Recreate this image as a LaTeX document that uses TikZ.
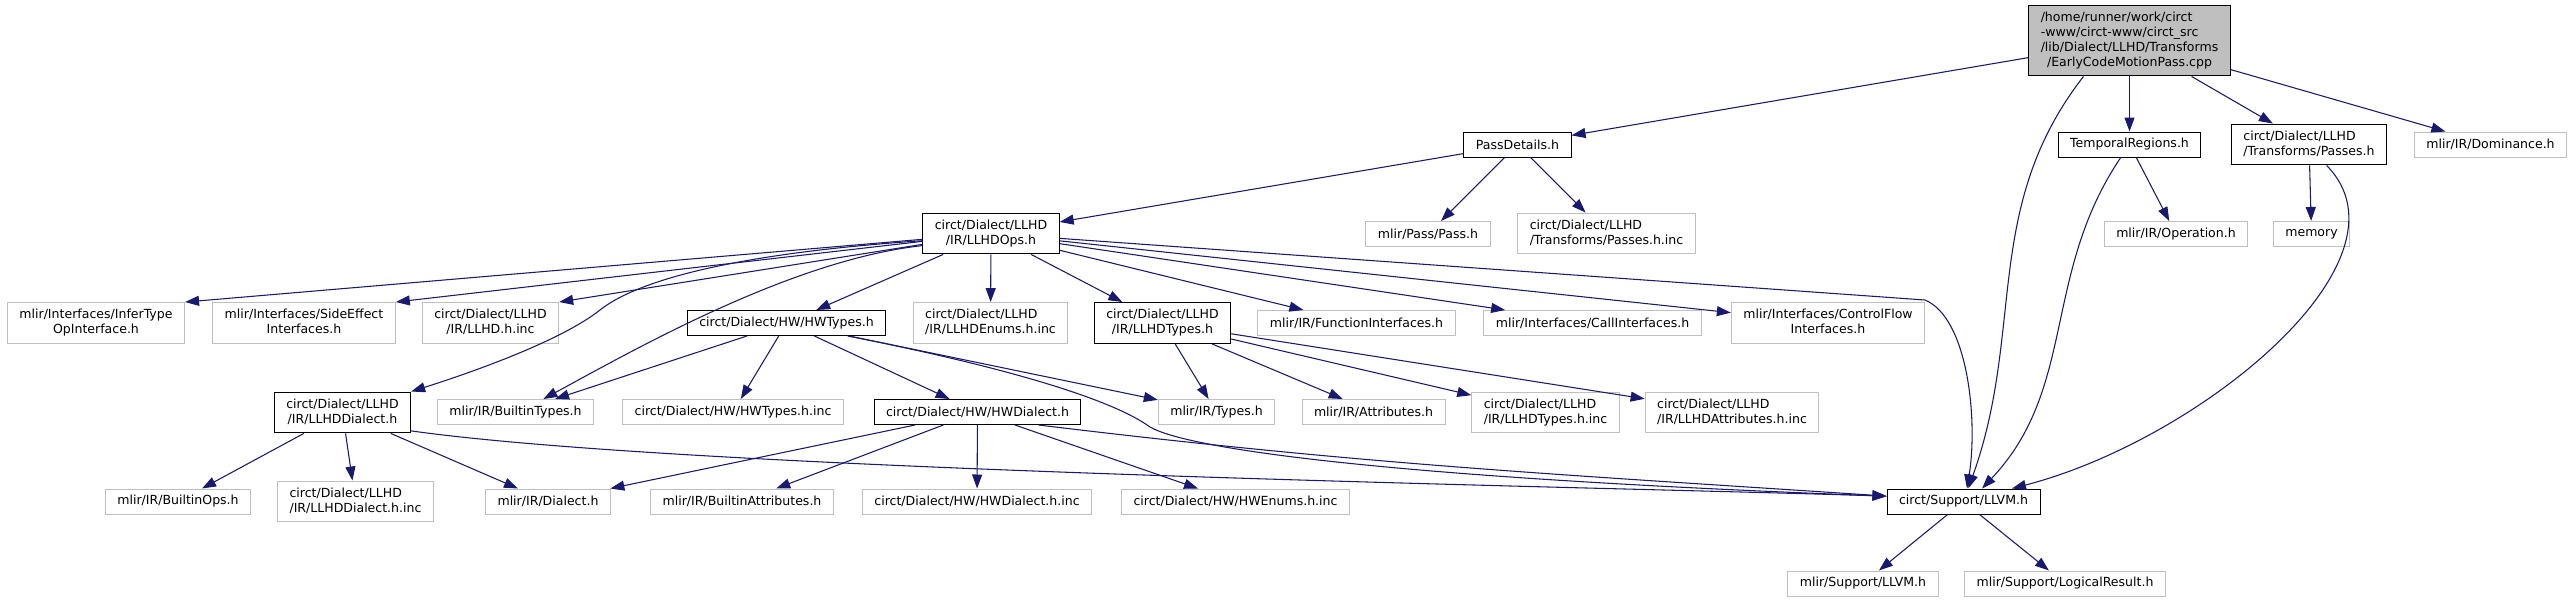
\documentclass[tikz,border=0pt]{standalone}
\usepackage{fontspec}
\setmainfont{DejaVu Sans}
\usetikzlibrary{arrows.meta}
\definecolor{grey75}{HTML}{BFBFBF}
\definecolor{edgeblue}{HTML}{191970}
\newcommand{\flab}[2]{\begin{tabular}{@{}l@{}}#1\\\multicolumn{1}{@{}c@{}}{#2}\end{tabular}}
\tikzset{
  incfile/.style={draw,line width=0.75pt,fill=white,inner xsep=9pt,inner ysep=4.1pt,minimum height=18.75pt,font=\fontsize{9.4}{11.25}\selectfont},
  extfile/.style={incfile,draw=grey75},
  rootfile/.style={incfile,fill=grey75},
  dep/.style={draw=edgeblue,line width=0.8pt,-{Triangle[length=10.5pt,width=7.5pt]}}
}

\begin{document}
\begin{tikzpicture}[x=0.75pt,y=-0.75pt]
  \useasboundingbox (0,0) rectangle (2573,603);
  \node[rootfile] (root) at (2129.5,40.5) {\flab{/home/runner/work/circt\\-www/circt-www/circt\_src\\/lib/Dialect/LLHD/Transforms}{/EarlyCodeMotionPass.cpp}};

  \node[incfile] (pdet) at (1517.5,144.5) {PassDetails.h};
  \node[incfile] (tmpreg) at (2129.5,144.5) {TemporalRegions.h};
  \node[incfile] (passes) at (2309,144.5) {\flab{circt/Dialect/LLHD}{/Transforms/Passes.h}};
  \node[extfile] (domin) at (2490.5,144.5) {mlir/IR/Dominance.h};

  \node[incfile] (llhdops) at (991,233.5) {\flab{circt/Dialect/LLHD}{/IR/LLHDOps.h}};
  \node[extfile] (pass) at (1428,234) {mlir/Pass/Pass.h};
  \node[extfile] (passinc) at (1606.5,233.5) {\flab{circt/Dialect/LLHD}{/Transforms/Passes.h.inc}};
  \node[extfile] (operation) at (2176,234) {mlir/IR/Operation.h};
  \node[extfile] (memory) at (2311.5,234) {memory};

  \node[extfile] (infertype) at (96,323) {\flab{mlir/Interfaces/InferType}{OpInterface.h}};
  \node[extfile] (sideeff) at (304,323) {\flab{mlir/Interfaces/SideEffect}{Interfaces.h}};
  \node[extfile] (llhdinc) at (490.5,323) {\flab{circt/Dialect/LLHD}{/IR/LLHD.h.inc}};
  \node[incfile] (hwtypes) at (786.5,323) {circt/Dialect/HW/HWTypes.h};
  \node[extfile] (llhdenums) at (990.5,323) {\flab{circt/Dialect/LLHD}{/IR/LLHDEnums.h.inc}};
  \node[incfile] (llhdtypes) at (1162.5,323) {\flab{circt/Dialect/LLHD}{/IR/LLHDTypes.h}};
  \node[extfile] (funcif) at (1356.5,323) {mlir/IR/FunctionInterfaces.h};
  \node[extfile] (callif) at (1592.5,323) {mlir/Interfaces/CallInterfaces.h};
  \node[extfile] (cflowif) at (1828,323) {\flab{mlir/Interfaces/ControlFlow}{Interfaces.h}};

  \node[incfile] (llhddia) at (342.5,412.5) {\flab{circt/Dialect/LLHD}{/IR/LLHDDialect.h}};
  \node[extfile] (bltypes) at (515.5,412) {mlir/IR/BuiltinTypes.h};
  \node[extfile] (hwtypesinc) at (733,412) {circt/Dialect/HW/HWTypes.h.inc};
  \node[incfile] (hwdia) at (977.5,412) {circt/Dialect/HW/HWDialect.h};
  \node[extfile] (irtypes) at (1216.5,412) {mlir/IR/Types.h};
  \node[extfile] (irattr) at (1373.5,412) {mlir/IR/Attributes.h};
  \node[extfile] (llhdtypesinc) at (1545.5,412.5) {\flab{circt/Dialect/LLHD}{/IR/LLHDTypes.h.inc}};
  \node[extfile] (llhdattrinc) at (1732,412.5) {\flab{circt/Dialect/LLHD}{/IR/LLHDAttributes.h.inc}};

  \node[extfile] (blops) at (178,501.5) {mlir/IR/BuiltinOps.h};
  \node[extfile] (llhddiainc) at (355.5,501.5) {\flab{circt/Dialect/LLHD}{/IR/LLHDDialect.h.inc}};
  \node[extfile] (irdialect) at (548,501.5) {mlir/IR/Dialect.h};
  \node[extfile] (blattr) at (742,501.5) {mlir/IR/BuiltinAttributes.h};
  \node[extfile] (hwdiainc) at (977,501.5) {circt/Dialect/HW/HWDialect.h.inc};
  \node[extfile] (hwenums) at (1235.5,501.5) {circt/Dialect/HW/HWEnums.h.inc};
  \node[incfile] (cllvm) at (1963.5,501.5) {circt/Support/LLVM.h};

  \node[extfile] (mllvm) at (1863,583.5) {mlir/Support/LLVM.h};
  \node[extfile] (logres) at (2065,583.5) {mlir/Support/LogicalResult.h};

  \coordinate (opsbend) at (1925,300);
  \coordinate (diabend) at (600,310);
  \coordinate (hwbend) at (1150,427);

  \foreach \a/\b in {root/pdet,root/tmpreg,root/passes,root/domin,
      pdet/llhdops,pdet/pass,pdet/passinc,tmpreg/operation,passes/memory,
      llhdops/infertype.north east,llhdops/sideeff.north east,llhdops/llhdinc.north east,
      llhdops/hwtypes,llhdops/llhdenums,
      llhdops/llhdtypes,llhdops/funcif,llhdops/callif,llhdops/cflowif,
      hwtypes/bltypes,hwtypes/hwtypesinc,hwtypes/hwdia,hwtypes/irtypes,
      llhdtypes/irtypes,llhdtypes/irattr,llhdtypes/llhdtypesinc,llhdtypes/llhdattrinc,
      llhddia/blops,llhddia/llhddiainc,llhddia/irdialect,
      hwdia/irdialect,hwdia/blattr,hwdia/hwdiainc,hwdia/hwenums,
      cllvm/mllvm,cllvm/logres}
    \draw[dep] (\a) -- (\b);

  \draw[dep] (root.-142) .. controls (1982,207) and (2025,330) .. (cllvm.70);
  \draw[dep] (tmpreg.-124) .. controls (2042,274) and (2077,388) .. (cllvm.35);
  \draw[dep] (passes.-50) .. controls (2420,260) and (2200,440) .. (cllvm.15);
  \draw[dep] (llhdops) -- (opsbend) .. controls (1968,318) and (1978,420) .. (cllvm.75);
  \draw[dep] (llhdops.186) .. controls (770,251) and (647,273) .. (diabend)
    .. controls (561,341) and (470,373) .. (llhddia.north east);
  \draw[dep] (llhdops.190) .. controls (791,260) and (632,351) .. (bltypes.25);
  \draw[dep] (hwtypes.-12) .. controls (1000,366) and (1110,398) .. (hwbend)
    .. controls (1190,450) and (1400,478) .. (cllvm.176);
  \draw[dep] (hwdia.-12) .. controls (1368,465) and (1554,474) .. (cllvm.176);
  \draw[dep] (llhddia.-15) .. controls (697,471) and (1598,487) .. (cllvm.176);
\end{tikzpicture}
\end{document}
